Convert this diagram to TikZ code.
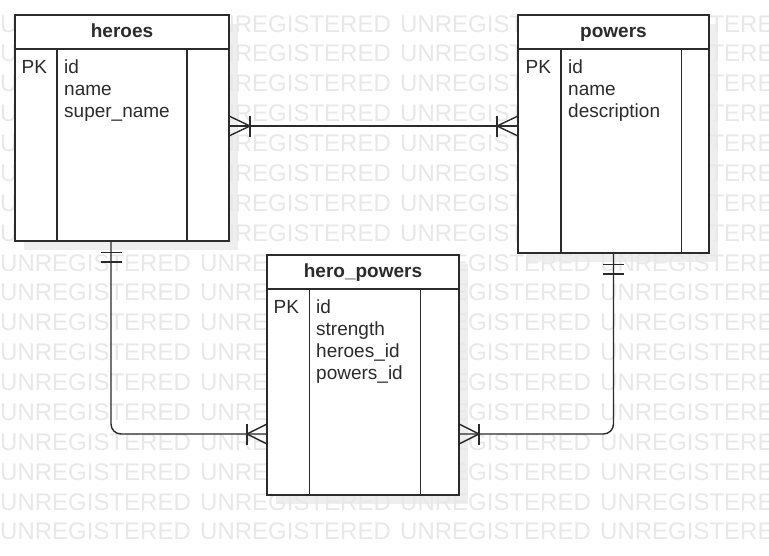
\documentclass[tikz,border=0pt]{standalone}
\usepackage{fontspec}
\setmainfont{Liberation Sans}
\usetikzlibrary{calc}
\definecolor{wm}{HTML}{E8E8E8}
\definecolor{shd}{HTML}{EEEEEE}
\definecolor{ink}{HTML}{2B2B2B}
\begin{document}
\begin{tikzpicture}[x=1pt,y=-1pt,
  box/.style={draw=ink, line width=1.4pt, fill=white, inner sep=0, outer sep=0, anchor=north west},
  shadowbox/.style={fill=shd, draw=none, inner sep=0, outer sep=0, anchor=north west},
  titletext/.style={font=\fontsize{19}{22}\selectfont\bfseries, text=ink, anchor=base, inner sep=0},
  field/.style={font=\fontsize{19}{22}\selectfont, text=ink, anchor=base west, inner sep=0},
  wmark/.style={font=\fontsize{24}{24}\selectfont, text=wm, anchor=base west, inner sep=0},
  conn/.style={draw=ink, line width=1.4pt},
  rule/.style={draw=ink, line width=1.4pt},
]
\useasboundingbox (0,0) rectangle (769,555);
\fill[white] (0,0) rectangle (769,555);
% shadows
\node[shadowbox, minimum width=214pt, minimum height=226pt] (hsh) at (24,24) {};
\node[shadowbox, minimum width=191pt, minimum height=238pt] (psh) at (527,24) {};
\node[shadowbox, minimum width=192pt, minimum height=240pt] (hpsh) at (276,264) {};
% watermark
\begin{scope}
\clip (0,0) rectangle (769,555);
\foreach \r in {0,...,17} {
  \foreach \c in {0,...,3} {
    \node[wmark] (wm-\r-\c) at ({200*\c}, {32+29.88*\r}) {UNREGISTERED};
  }
}
\end{scope}
% heroes
\node[box, minimum width=214pt, minimum height=226pt] (heroes) at (15,15) {};
\draw[rule] ([yshift=-34pt]heroes.north west) -- ([yshift=-34pt]heroes.north east);
\draw[rule] ([shift={(42pt,-34pt)}]heroes.north west) -- ([xshift=42pt]heroes.south west);
\draw[rule] ([shift={(-42pt,-34pt)}]heroes.north east) -- ([xshift=-42pt]heroes.south east);
\node[titletext] (heroes-t) at (122,37) {heroes};
\node[field] (heroes-pk) at (21.5,73) {PK};
\node[field] (heroes-f1) at (64,73) {id};
\node[field] (heroes-f2) at (64,95) {name};
\node[field] (heroes-f3) at (64,117) {super\_name};
% powers
\node[box, minimum width=191pt, minimum height=238pt] (powers) at (518,15) {};
\draw[rule] ([yshift=-34pt]powers.north west) -- ([yshift=-34pt]powers.north east);
\draw[rule] ([shift={(43pt,-34pt)}]powers.north west) -- ([xshift=43pt]powers.south west);
\draw[rule] ([shift={(-27.5pt,-34pt)}]powers.north east) -- ([xshift=-27.5pt]powers.south east);
\node[titletext] (powers-t) at (613.5,37) {powers};
\node[field] (powers-pk) at (525.5,73) {PK};
\node[field] (powers-f1) at (568,73) {id};
\node[field] (powers-f2) at (568,95) {name};
\node[field] (powers-f3) at (568,117) {description};
% hero_powers
\node[box, minimum width=192pt, minimum height=240pt] (hp) at (267,255) {};
\draw[rule] ([yshift=-34pt]hp.north west) -- ([yshift=-34pt]hp.north east);
\draw[rule] ([shift={(42.5pt,-34pt)}]hp.north west) -- ([xshift=42.5pt]hp.south west);
\draw[rule] ([shift={(-38.5pt,-34pt)}]hp.north east) -- ([xshift=-38.5pt]hp.south east);
\node[titletext] (hp-t) at (363,277) {hero\_powers};
\node[field] (hp-pk) at (273.5,313) {PK};
\node[field] (hp-f1) at (316,313) {id};
\node[field] (hp-f2) at (316,335) {strength};
\node[field] (hp-f3) at (316,357) {heroes\_id};
\node[field] (hp-f4) at (316,379) {powers\_id};
% connectors
\coordinate (a1) at ([yshift=2pt]heroes.east);
\coordinate (a2) at ([yshift=8pt]powers.west);
\coordinate (b1) at ([xshift=-11pt]heroes.south);
\coordinate (b2) at ([yshift=-59pt]hp.west);
\coordinate (c1) at (powers.south);
\coordinate (c2) at ([yshift=-59pt]hp.east);
\draw[conn] (a1) -- (a2);
\draw[conn, rounded corners=10pt] (b1) |- (b2);
\draw[conn, rounded corners=10pt] (c1) |- (c2);
% crow's feet (one or many)
\draw[conn] ($(a1)+(0,-10)$) -- ($(a1)+(21,0)$);
\draw[conn] ($(a1)+(0,10)$) -- ($(a1)+(21,0)$);
\draw[conn] ($(a1)+(21,-10.5)$) -- ($(a1)+(21,10.5)$);
\draw[conn] ($(a2)+(0,-10)$) -- ($(a2)+(-21,0)$);
\draw[conn] ($(a2)+(0,10)$) -- ($(a2)+(-21,0)$);
\draw[conn] ($(a2)+(-21,-10.5)$) -- ($(a2)+(-21,10.5)$);
\draw[conn] ($(b2)+(0,-10)$) -- ($(b2)+(-20,0)$);
\draw[conn] ($(b2)+(0,10)$) -- ($(b2)+(-20,0)$);
\draw[conn] ($(b2)+(-20,-10.5)$) -- ($(b2)+(-20,10.5)$);
\draw[conn] ($(c2)+(0,-10)$) -- ($(c2)+(20,0)$);
\draw[conn] ($(c2)+(0,10)$) -- ($(c2)+(20,0)$);
\draw[conn] ($(c2)+(20,-10.5)$) -- ($(c2)+(20,10.5)$);
% mandatory one
\draw[conn] ($(b1)+(-10.5,11.5)$) -- ($(b1)+(10.5,11.5)$);
\draw[conn] ($(b1)+(-10.5,21)$) -- ($(b1)+(10.5,21)$);
\draw[conn] ($(c1)+(-10.5,11.5)$) -- ($(c1)+(10.5,11.5)$);
\draw[conn] ($(c1)+(-10.5,21)$) -- ($(c1)+(10.5,21)$);
\end{tikzpicture}
\end{document}
